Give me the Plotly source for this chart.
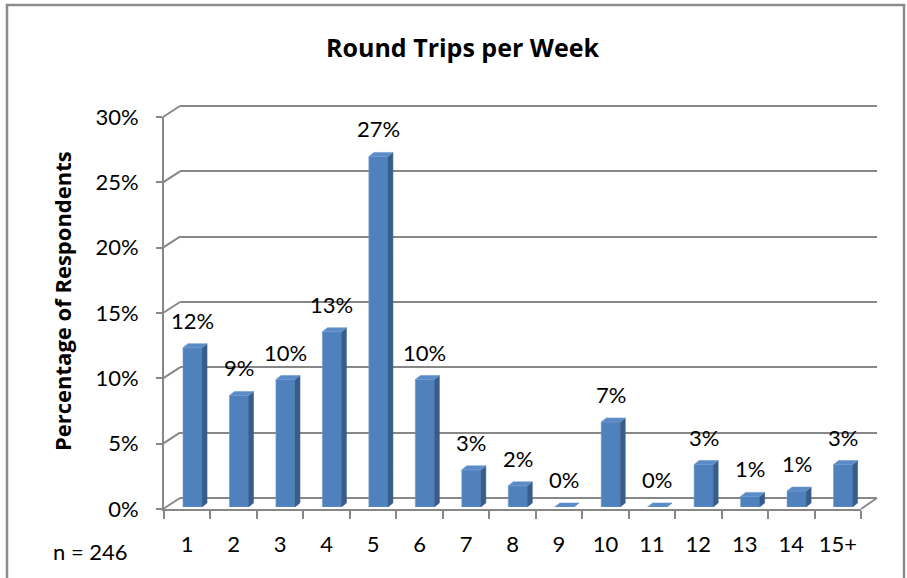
import plotly.graph_objects as go

# Survey results: round trips per week (n = 246 respondents)
categories = ["1", "2", "3", "4", "5", "6", "7", "8", "9", "10", "11", "12", "13", "14", "15+"]
counts = [30, 21, 24, 33, 66, 24, 7, 4, 0, 16, 0, 8, 2, 3, 8]
n_total = 246
y_ticks = [0, 5, 10, 15, 20, 25, 30]
y_tick_labels = [f"{t}%" for t in y_ticks]

title_text = "Round Trips per Week"
y_title_text = "Percentage of Respondents"
n_text = f"n = {n_total}"

pct = [100.0 * c / n_total for c in counts]
idx = list(range(len(categories)))

W, H = 907, 578
FONT = "Lato"
TITLE_FONT = "Open Sans"
GRID = "#878787"
FRONT = "#4F81BD"
SIDE = "#385D8A"
TOP = "#5B8BC7"


def px(x):
    return x / W


def py(y):
    return 1 - y / H


# pixel geometry of the three planes (back wall, bar plane, front axes)
Y_RANGE = [0, 30]
FRONT_X0, FRONT_X1, FRONT_Y0, FRONT_Y1 = 164, 861, 509, 117
BACK_DX, BACK_DY = 16, -11
BAR_DX, BAR_DY = 5.3, -2
YPX = (FRONT_Y0 - FRONT_Y1) / (Y_RANGE[1] - Y_RANGE[0])
XPX = (FRONT_X1 - FRONT_X0) / len(categories)

# small padding on the back wall axis so the top gridline is kept
PAD = 0.2
PAD_PX = PAD * YPX

# bar depth (side face) in data units
bar_w = 0.41
dx = 5.0 / XPX
dy = 4.0 / YPX

fig = go.Figure()

# back wall carrier trace (gridlines only)
fig.add_trace(go.Scatter(x=[None], y=[None], mode="markers", xaxis="x", yaxis="y",
                         hoverinfo="skip", showlegend=False))

# bars (front faces)
fig.add_trace(go.Bar(
    x=idx, y=pct, width=bar_w,
    marker=dict(color=FRONT, line=dict(color="#6F98CC", width=0.6)),
    xaxis="x2", yaxis="y2", hoverinfo="skip", showlegend=False,
))

# side and top faces of each bar
sx, sy, tx, ty = [], [], [], []
for i, v in zip(idx, pct):
    r = i + bar_w / 2
    l = i - bar_w / 2
    sx += [r, r + dx, r + dx, r, r, None]
    sy += [0, dy, v + dy, v, 0, None]
    tx += [l, r, r + dx, l + dx, l, None]
    ty += [v, v, v + dy, v + dy, v, None]

fig.add_trace(go.Scatter(
    x=sx, y=sy, mode="lines", fill="toself", fillcolor=SIDE,
    line=dict(color=SIDE, width=0.5), xaxis="x2", yaxis="y2",
    hoverinfo="skip", showlegend=False,
))
fig.add_trace(go.Scatter(
    x=tx, y=ty, mode="lines", fill="toself", fillcolor=TOP,
    line=dict(color="#6F98CC", width=0.6), xaxis="x2", yaxis="y2",
    hoverinfo="skip", showlegend=False,
))

# front axes carrier trace (category axis)
fig.add_trace(go.Scatter(
    x=categories, y=[None] * len(categories), mode="markers",
    xaxis="x3", yaxis="y3", hoverinfo="skip", showlegend=False,
))

# data labels
annotations = []
for i, v in zip(idx, pct):
    annotations.append(dict(
        x=i, y=v, xref="x2", yref="y2", text=f"{v:.0f}%", showarrow=False,
        yshift=27.5, yanchor="middle", xanchor="center",
        font=dict(family=FONT, size=22, color="#000000"),
    ))

annotations += [
    dict(x=px(463), y=py(47), xref="paper", yref="paper", text=f"<b>{title_text}</b>",
         showarrow=False, xanchor="center", yanchor="middle",
         font=dict(family=TITLE_FONT, size=25, color="#000000")),
    dict(x=px(62), y=py(301), xref="paper", yref="paper", text=f"<b>{y_title_text}</b>",
         showarrow=False, xanchor="center", yanchor="middle", textangle=-90,
         font=dict(family=TITLE_FONT, size=22, color="#000000")),
    dict(x=px(90), y=py(551), xref="paper", yref="paper", text=n_text,
         showarrow=False, xanchor="center", yanchor="middle",
         font=dict(family=FONT, size=22, color="#000000")),
]

# side wall and floor edges (connect front ticks to back wall grid)
shapes = []
for t in y_ticks:
    fy = FRONT_Y0 - (t - Y_RANGE[0]) * YPX
    shapes.append(dict(type="line", xref="paper", yref="paper", layer="below",
                       x0=px(FRONT_X0 - 1), y0=py(fy), x1=px(FRONT_X0 + BACK_DX), y1=py(fy + BACK_DY),
                       line=dict(color=GRID, width=2)))
shapes.append(dict(type="line", xref="paper", yref="paper", layer="below",
                   x0=px(FRONT_X1), y0=py(FRONT_Y0), x1=px(FRONT_X1 + BACK_DX), y1=py(FRONT_Y0 + BACK_DY),
                   line=dict(color=GRID, width=2)))
# outer chart frame
shapes.append(dict(type="rect", xref="paper", yref="paper", layer="below",
                   x0=px(7), y0=py(5), x1=px(904), y1=py(H + 10),
                   line=dict(color="#8C8C8C", width=2.5)))

hidden = dict(visible=False, showgrid=False, zeroline=False, fixedrange=True, automargin=False)

fig.update_layout(
    width=W, height=H,
    margin=dict(l=0, r=0, t=0, b=0, pad=0, autoexpand=False),
    paper_bgcolor="white", plot_bgcolor="rgba(0,0,0,0)",
    showlegend=False,
    font=dict(family=FONT, color="#000000"),
    # back wall gridlines
    xaxis=dict(domain=[px(FRONT_X0 + BACK_DX), px(FRONT_X1 + BACK_DX)], range=[0, 1],
               visible=False, fixedrange=True, anchor="y", automargin=False),
    yaxis=dict(domain=[py(FRONT_Y0 + BACK_DY + PAD_PX), py(FRONT_Y1 + BACK_DY - PAD_PX)],
               range=[Y_RANGE[0] - PAD, Y_RANGE[1] + PAD],
               tickvals=y_ticks, showgrid=True, gridcolor=GRID, gridwidth=2,
               zeroline=True, zerolinecolor=GRID, zerolinewidth=2,
               showticklabels=False, ticks="", showline=False, fixedrange=True,
               anchor="x", automargin=False),
    # bar plane
    xaxis2=dict(domain=[px(FRONT_X0 + BAR_DX), px(FRONT_X1 + BAR_DX)], range=[-0.5, len(categories) - 0.5],
                anchor="y2", **hidden),
    yaxis2=dict(domain=[py(FRONT_Y0 + BAR_DY), py(FRONT_Y1 + BAR_DY)], range=Y_RANGE,
                anchor="x2", **hidden),
    # front axes
    xaxis3=dict(domain=[px(FRONT_X0), px(FRONT_X1)], type="category",
                categoryorder="array", categoryarray=categories,
                range=[-0.5, len(categories) - 0.5], anchor="y3",
                showline=True, linecolor=GRID, linewidth=2,
                ticks="outside", ticklen=8, tickwidth=2, tickcolor=GRID, tickson="boundaries",
                tickangle=0, ticklabelstandoff=15, showgrid=False, zeroline=False,
                fixedrange=True, automargin=False,
                tickfont=dict(family=FONT, size=22, color="#000000")),
    yaxis3=dict(domain=[py(FRONT_Y0), py(FRONT_Y1)], range=Y_RANGE, anchor="x3",
                tickvals=y_ticks, ticktext=y_tick_labels,
                showline=True, linecolor=GRID, linewidth=2,
                ticks="outside", ticklen=6, tickwidth=2, tickcolor=GRID,
                ticklabelstandoff=13, showgrid=False, zeroline=False,
                fixedrange=True, automargin=False,
                tickfont=dict(family=FONT, size=22, color="#000000")),
    annotations=annotations,
    shapes=shapes,
)

fig.write_html("out.html")
